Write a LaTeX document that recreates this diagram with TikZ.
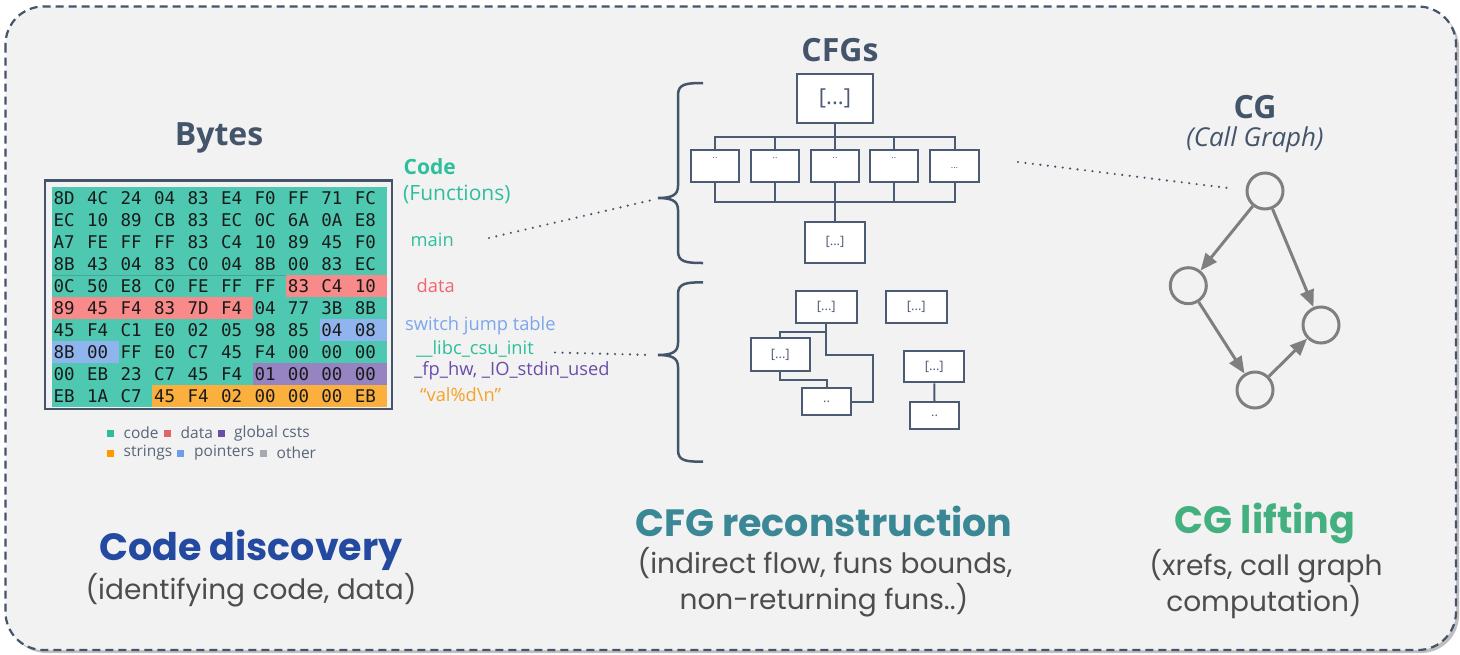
\documentclass[tikz,border=0pt]{standalone}
\usepackage{fontspec}
\setmainfont{Open Sans}
\newfontfamily\titlefont{Poppins}
\newfontfamily\hexfont{DejaVu Sans Mono}
\usetikzlibrary{arrows.meta,calc}
\definecolor{bgc}{HTML}{F2F2F2}
\definecolor{slate}{HTML}{44546A}
\definecolor{hexc}{HTML}{4EC8B0}
\definecolor{hexd}{HTML}{F88A8A}
\definecolor{hexp}{HTML}{8FB4EE}
\definecolor{hexg}{HTML}{9583C2}
\definecolor{hexs}{HTML}{FBB03E}
\definecolor{labc}{HTML}{2DBF9B}
\definecolor{labd}{HTML}{F2646C}
\definecolor{labp}{HTML}{7BA6EB}
\definecolor{labg}{HTML}{6A4DA9}
\definecolor{labs}{HTML}{F7A125}
\definecolor{legc}{HTML}{2DBD9A}
\definecolor{legd}{HTML}{E06666}
\definecolor{legg}{HTML}{6A4DA9}
\definecolor{legs}{HTML}{FF9900}
\definecolor{legp}{HTML}{6D9EEB}
\definecolor{lego}{HTML}{A5A9B0}
\definecolor{legtext}{HTML}{59657A}
\definecolor{cggray}{HTML}{7F7F7F}
\definecolor{boxline}{HTML}{4B5B73}
\definecolor{titblue}{HTML}{2349A0}
\definecolor{titteal}{HTML}{3A8795}
\definecolor{titgreen}{HTML}{44B07F}
\definecolor{subgray}{HTML}{4D4D4D}
\definecolor{hexink}{HTML}{1A1A1A}
\tikzset{
  hextext/.style={anchor=west,inner sep=0pt,text=hexink,font=\hexfont\fontsize{17.5}{20}\selectfont},
  lab/.style={anchor=west,inner sep=0pt,font=\fontsize{18.3}{22}\selectfont},
  legtxt/.style={anchor=west,inner sep=0pt,text=legtext,font=\fontsize{15.5}{18}\selectfont},
  head/.style={inner sep=0pt,text=slate,font=\fontsize{32}{36}\selectfont\bfseries},
  bigtitle/.style={inner sep=0pt,font=\titlefont\fontsize{38}{44}\selectfont\bfseries},
  subtitle/.style={inner sep=0pt,text=subgray,font=\titlefont\fontsize{28}{34}\selectfont},
  cfgbox/.style={draw=boxline,fill=white,line width=2pt,inner sep=0pt,text=boxline},
  bigdots/.style={font=\fontsize{22}{24}\selectfont},
  smalldots/.style={font=\fontsize{13}{15}\selectfont},
  tinydots/.style={inner sep=0pt,text=boxline,font=\fontsize{9}{10}\selectfont},
  wire/.style={draw=boxline,line width=2pt},
  brace/.style={draw=slate,line width=2.5pt},
  dotline/.style={draw=slate,line width=2.4pt,line cap=round,dash pattern=on 0pt off 7.5pt},
  cgnode/.style={circle,draw=cggray,line width=3pt,minimum size=36pt,inner sep=0pt},
  cgarrow/.style={draw=cggray,line width=3pt,-{Triangle[length=17pt,width=14pt]}},
}
\begin{document}
\begin{tikzpicture}[x=1pt,y=-1pt]
\useasboundingbox (0,0) rectangle (1460,654);
\fill[white] (0,0) rectangle (1460,654);
% outer frame with shadow
\fill[black,opacity=0.25,rounded corners=38pt] (8.5,9.5) rectangle (1459,653);
\draw[draw=slate,fill=bgc,line width=2.2pt,dash pattern=on 8pt off 5pt,rounded corners=38pt] (5.5,6.5) rectangle (1456,650);

% ---------------- Bytes ----------------
\node[head] (bytes) at (219,138) {Bytes};
\foreach \row [count=\r from 0] in {
 {8D/c,4C/c,24/c,04/c,83/c,E4/c,F0/c,FF/c,71/c,FC/c},
 {EC/c,10/c,89/c,CB/c,83/c,EC/c,0C/c,6A/c,0A/c,E8/c},
 {A7/c,FE/c,FF/c,FF/c,83/c,C4/c,10/c,89/c,45/c,F0/c},
 {8B/c,43/c,04/c,83/c,C0/c,04/c,8B/c,00/c,83/c,EC/c},
 {0C/c,50/c,E8/c,C0/c,FE/c,FF/c,FF/c,83/d,C4/d,10/d},
 {89/d,45/d,F4/d,83/d,7D/d,F4/d,04/c,77/c,3B/c,8B/c},
 {45/c,F4/c,C1/c,E0/c,02/c,05/c,98/c,85/c,04/p,08/p},
 {8B/p,00/p,FF/c,E0/c,C7/c,45/c,F4/c,00/c,00/c,00/c},
 {00/c,EB/c,23/c,C7/c,45/c,F4/c,01/g,00/g,00/g,00/g},
 {EB/c,1A/c,C7/c,45/s,F4/s,02/s,00/s,00/s,00/s,EB/s}} {
  \foreach \b/\k [count=\i from 0] in \row {
    \fill[hex\k] ({52+\i*33.47},{187.3+\r*21.94}) rectangle ++(33.97,22.44);
  }
}
\draw[line width=0.8pt,draw=hexc!85!black] (52,275.3) -- (286.3,275.3);
\foreach \row [count=\r from 0] in {
 {8D,4C,24,04,83,E4,F0,FF,71,FC},
 {EC,10,89,CB,83,EC,0C,6A,0A,E8},
 {A7,FE,FF,FF,83,C4,10,89,45,F0},
 {8B,43,04,83,C0,04,8B,00,83,EC},
 {0C,50,E8,C0,FE,FF,FF,83,C4,10},
 {89,45,F4,83,7D,F4,04,77,3B,8B},
 {45,F4,C1,E0,02,05,98,85,04,08},
 {8B,00,FF,E0,C7,45,F4,00,00,00},
 {00,EB,23,C7,45,F4,01,00,00,00},
 {EB,1A,C7,45,F4,02,00,00,00,EB}} {
  \foreach \b [count=\i from 0] in \row {
    \node[hextext] (h\r-\i) at ({53.5+\i*33.47},{198.3+\r*21.94}) {\b};
  }
}
\draw[draw=slate,line width=2.2pt] (44.7,180.5) rectangle (392.3,409.3);

% labels right of bytes
\node[lab,text=labc,font=\fontsize{21}{24}\selectfont\bfseries] (codelbl) at (403.5,167) {Code};
\node[lab,text=labc,font=\fontsize{21}{24}\selectfont] (funclbl) at (403,194) {(Functions)};
\node[lab,text=labc] (mainlbl) at (410.5,240) {main};
\node[lab,text=labd] (datalbl) at (416.5,286) {data};
\node[lab,text=labp] (swlbl) at (405,326) {switch jump table};
\node[lab,text=labc] (libclbl) at (416,348.5) {\_\_libc\_csu\_init};
\node[lab,text=labg] (fplbl) at (414,370.5) {\_fp\_hw, \_IO\_stdin\_used};
\node[lab,text=labs] (vallbl) at (420,395) {“val\%d\textbackslash n”};

% legend
\fill[legc] (106.5,429.5) rectangle ++(7,7);
\node[legtxt] (lg1) at (123.5,433) {code};
\fill[legd] (163.5,429.5) rectangle ++(7,7);
\node[legtxt] (lg2) at (180.5,433) {data};
\fill[legg] (217.5,429.5) rectangle ++(7,7);
\node[legtxt] (lg3) at (234,433) {global csts};
\fill[legs] (106.5,449.5) rectangle ++(7,7);
\node[legtxt] (lg4) at (123.5,453) {strings};
\fill[legp] (177,449.5) rectangle ++(7,7);
\node[legtxt] (lg5) at (194,453) {pointers};
\fill[lego] (259.5,449.5) rectangle ++(7,7);
\node[legtxt] (lg6) at (276.5,453) {other};

% bottom titles
\node[bigtitle,text=titblue] (t1) at (251,550) {Code discovery};
\node[subtitle] (t1s) at (251,590) {(identifying code, data)};
\node[bigtitle,text=titteal] (t2) at (824,521) {CFG reconstruction};
\node[subtitle] (t2s) at (825,563) {(indirect flow, funs bounds,};
\node[subtitle] (t2s2) at (824,600) {non-returning funs..)};
\node[bigtitle,text=titgreen] (t3) at (1265,523) {CG lifting};
\node[subtitle] (t3s) at (1266,566) {(xrefs, call graph};
\node[subtitle] (t3s2) at (1264,602) {computation)};

% ---------------- CFGs ----------------
\node[head] (cfgs) at (840,50) {CFGs};
\node[cfgbox,bigdots,minimum width=76.6pt,minimum height=49pt] (top) at (835,98.8) {[...]};
\node[cfgbox,minimum width=48.6pt,minimum height=32.3pt] (s1) at (715,166.2) {};
\node[cfgbox,minimum width=48.6pt,minimum height=32.3pt] (s2) at (775,166.2) {};
\node[cfgbox,minimum width=48.6pt,minimum height=32.3pt] (s3) at (835,166.2) {};
\node[cfgbox,minimum width=48.6pt,minimum height=32.3pt] (s4) at (893.8,166.2) {};
\node[cfgbox,minimum width=49pt,minimum height=32.3pt] (s5) at (954.5,166.2) {};
\foreach \s in {s1,s2,s3,s4} {
  \node[tinydots] (\s d) at ($(\s.north)+(0,9)$) {..};
}
\node[tinydots] (s5d) at ($(s5.center)+(0,2)$) {...};
\node[cfgbox,smalldots,minimum width=60pt,minimum height=41pt] (bot) at (835,242.2) {[...]};
\coordinate (bt) at (835,137.3);
\coordinate (bb) at (835,201.7);
\draw[wire] (top.south) -- (bt);
\draw[wire] (s1.north) -- (s1.north |- bt) -- (s5.north |- bt) -- (s5.north);
\foreach \s in {s2,s3,s4} { \draw[wire] (\s.north) -- (\s.north |- bt); }
\draw[wire] (s1.south) -- (s1.south |- bb) -- (s5.south |- bb) -- (s5.south);
\foreach \s in {s2,s3,s4} { \draw[wire] (\s.south) -- (\s.south |- bb); }
\draw[wire] (bb) -- (bot.north);

% braces
\draw[brace] (703,83) .. controls (686,83) and (678,84) .. (678,95) -- (678,186)
  .. controls (678,195) and (672,198) .. (658,198)
  .. controls (672,198) and (678,201) .. (678,210) -- (678,251)
  .. controls (678,262) and (686,263) .. (703,263);
\draw[brace] (703,282.3) .. controls (686,282.3) and (678,283.3) .. (678,294) -- (678,343)
  .. controls (678,352) and (672,355) .. (658,355)
  .. controls (672,355) and (678,358) .. (678,367) -- (678,450)
  .. controls (678,461) and (686,461.7) .. (703,461.7);

% lower CFGs
\node[cfgbox,smalldots,minimum width=60.7pt,minimum height=32pt] (A) at (826.3,306.7) {[...]};
\node[cfgbox,smalldots,minimum width=60.7pt,minimum height=32pt] (B) at (916.3,306.7) {[...]};
\node[cfgbox,smalldots,minimum width=59.3pt,minimum height=32.4pt] (C) at (780.3,354.5) {[...]};
\node[cfgbox,smalldots,minimum width=48.7pt,minimum height=26.7pt] (D) at (826.7,401.7) {..};
\node[cfgbox,smalldots,minimum width=60pt,minimum height=31.6pt] (E) at (934.3,366.5) {[...]};
\node[cfgbox,smalldots,minimum width=49pt,minimum height=26.7pt] (F) at (934.5,415.7) {..};
\coordinate (k1) at (873.3,355.3);
\draw[wire] (A.south) -- ++(0,8) -| (C.north);
\draw[wire] (A.south) |- (k1) |- (D.east);
\draw[wire] (C.south) -- ++(0,8.3) -| (D.north);
\draw[wire] (E.south) -- (F.north);

% ---------------- CG ----------------
\node[head] (cg) at (1255,107) {CG};
\node[inner sep=0pt,text=slate,font=\fontsize{26}{30}\selectfont\itshape] (cgsub) at (1255,140) {(Call Graph)};
\node[cgnode] (n1) at (1265,191) {};
\node[cgnode] (n2) at (1188.3,285.7) {};
\node[cgnode] (n3) at (1321,325) {};
\node[cgnode] (n4) at (1255,390) {};
\draw[cgarrow] (n1) -- (n2);
\draw[cgarrow] (n1) -- (n3);
\draw[cgarrow] (n2) -- (n4);
\draw[cgarrow] (n4) -- (n3);

% dotted links
\coordinate (d1) at (652,200);
\coordinate (d2) at (652,355);
\coordinate (d3s) at (1018,162);
\coordinate (d3e) at (1228,188);
\draw[dotline] ($(mainlbl.east)+(35,-2)$) -- (d1);
\draw[dotline] ($(libclbl.east)+(21,4)$) -- (d2);
\draw[dotline] (d3s) -- (d3e);
\end{tikzpicture}
\end{document}
